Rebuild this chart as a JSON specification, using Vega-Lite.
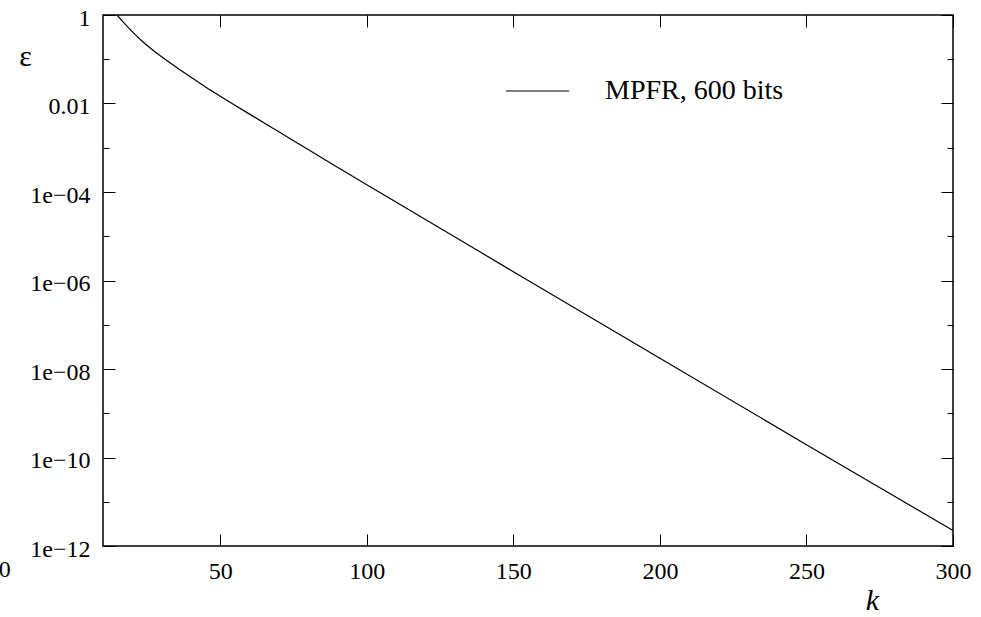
{
  "$schema": "https://vega.github.io/schema/vega-lite/v6.json",
  "autosize": {"type": "none"},
  "width": 850,
  "height": 531,
  "padding": {"left": 103, "top": 15, "right": 28, "bottom": 71},
  "background": "white",
  "config": {
    "view": {"stroke": "black", "strokeWidth": 1.5},
    "font": "Liberation Serif, Times New Roman, Times, serif",
    "axis": {
      "grid": false,
      "domain": false,
      "labelFont": "Liberation Serif, Times New Roman, Times, serif",
      "labelFontSize": 24,
      "labelColor": "black",
      "tickColor": "black",
      "tickWidth": 1,
      "titleFont": "Liberation Serif, Times New Roman, Times, serif",
      "titleColor": "black",
      "titleFontWeight": "normal"
    }
  },
  "datasets": {
    "curve": [
      {"k": 14.8, "eps": 1.0, "series": "MPFR, 600 bits"},
      {"k": 17, "eps": 0.684, "series": "MPFR, 600 bits"},
      {"k": 19, "eps": 0.49, "series": "MPFR, 600 bits"},
      {"k": 21, "eps": 0.359, "series": "MPFR, 600 bits"},
      {"k": 23, "eps": 0.269, "series": "MPFR, 600 bits"},
      {"k": 25, "eps": 0.2065, "series": "MPFR, 600 bits"},
      {"k": 27.5, "eps": 0.151, "series": "MPFR, 600 bits"},
      {"k": 30, "eps": 0.1135, "series": "MPFR, 600 bits"},
      {"k": 35, "eps": 0.0661, "series": "MPFR, 600 bits"},
      {"k": 40, "eps": 0.0394, "series": "MPFR, 600 bits"},
      {"k": 45, "eps": 0.0237, "series": "MPFR, 600 bits"},
      {"k": 50, "eps": 0.01462, "series": "MPFR, 600 bits"},
      {"k": 55, "eps": 0.00912, "series": "MPFR, 600 bits"},
      {"k": 60, "eps": 0.00575, "series": "MPFR, 600 bits"},
      {"k": 70, "eps": 0.00229, "series": "MPFR, 600 bits"},
      {"k": 80, "eps": 0.000912, "series": "MPFR, 600 bits"},
      {"k": 90, "eps": 0.000363, "series": "MPFR, 600 bits"},
      {"k": 100, "eps": 0.000146, "series": "MPFR, 600 bits"},
      {"k": 120, "eps": 2.4e-5, "series": "MPFR, 600 bits"},
      {"k": 150, "eps": 1.58e-6, "series": "MPFR, 600 bits"},
      {"k": 200, "eps": 1.74e-8, "series": "MPFR, 600 bits"},
      {"k": 250, "eps": 1.95e-10, "series": "MPFR, 600 bits"},
      {"k": 300, "eps": 2.24e-12, "series": "MPFR, 600 bits"}
    ]
  },
  "resolve": {"axis": {"x": "independent", "y": "independent"}},
  "layer": [
    {
      "data": {"name": "curve"},
      "mark": {"type": "line", "strokeWidth": 1.2, "clip": true, "interpolate": "monotone"},
      "encoding": {
        "x": {
          "field": "k", "type": "quantitative",
          "scale": {"domain": [10, 300], "nice": false, "zero": false},
          "axis": {
            "orient": "bottom",
            "values": [50, 100, 150, 200, 250, 300],
            "tickSize": -12,
            "labelPadding": 25,
            "labelBaseline": "top",
            "labelFlush": false,
            "title": "k",
            "titleFontSize": 30,
            "titleFontStyle": "italic",
            "titleX": 769,
            "titleY": 63,
            "titleAlign": "center",
            "titleBaseline": "alphabetic"
          }
        },
        "y": {
          "field": "eps", "type": "quantitative",
          "scale": {"type": "log", "domain": [1e-12, 1], "nice": false},
          "axis": {
            "orient": "left",
            "values": [1, 0.01, 0.0001, 1e-6, 1e-8, 1e-10, 1e-12],
            "tickSize": -12,
            "labelPadding": 25,
            "labelOffset": 3,
            "labelFlush": false,
            "labelExpr": "datum.value >= 0.5 ? '1' : datum.value > 0.001 ? '0.01' : '1e−' + pad(toString(round(-log(datum.value)/LN10)), 2, '0', 'left')",
            "title": "ε",
            "titleAngle": 0,
            "titleFontSize": 30,
            "titleX": -78,
            "titleY": 50,
            "titleAlign": "center",
            "titleBaseline": "alphabetic"
          }
        },
        "color": {
          "field": "series", "type": "nominal",
          "scale": {"range": ["black"]},
          "legend": {
            "orient": "none",
            "legendX": 402,
            "legendY": 43.5,
            "title": null,
            "symbolType": "stroke",
            "symbolSize": 3969,
            "symbolStrokeWidth": 1.2,
            "labelFont": "Liberation Serif, Times New Roman, Times, serif",
            "labelFontSize": 28,
            "labelColor": "black",
            "labelOffset": 35,
            "labelLimit": 400,
            "padding": 0
          }
        }
      }
    },
    {
      "data": {"name": "curve"},
      "mark": {"type": "line", "opacity": 0, "clip": true},
      "encoding": {
        "x": {
          "field": "k", "type": "quantitative",
          "axis": {"orient": "top", "values": [50, 100, 150, 200, 250, 300], "tickSize": -12, "labels": false, "title": null}
        },
        "y": {
          "field": "eps", "type": "quantitative",
          "axis": {"orient": "left", "values": [0.1, 0.001, 1e-5, 1e-7, 1e-9, 1e-11], "tickSize": -6, "labels": false, "title": null}
        }
      }
    },
    {
      "data": {"name": "curve"},
      "mark": {"type": "line", "opacity": 0, "clip": true},
      "encoding": {
        "x": {"field": "k", "type": "quantitative", "axis": null},
        "y": {
          "field": "eps", "type": "quantitative",
          "axis": {"orient": "right", "values": [1, 0.01, 0.0001, 1e-6, 1e-8, 1e-10, 1e-12], "tickSize": -12, "labels": false, "title": null}
        }
      }
    },
    {
      "data": {"name": "curve"},
      "mark": {"type": "line", "opacity": 0, "clip": true},
      "encoding": {
        "x": {"field": "k", "type": "quantitative", "axis": null},
        "y": {
          "field": "eps", "type": "quantitative",
          "axis": {"orient": "right", "values": [0.1, 0.001, 1e-5, 1e-7, 1e-9, 1e-11], "tickSize": -6, "labels": false, "title": null}
        }
      }
    },
    {
      "data": {"values": [{"k": -23.5, "eps": 2.9e-13, "t": "0"}]},
      "mark": {"type": "text", "clip": false, "fontSize": 24, "font": "Liberation Serif, Times New Roman, Times, serif", "color": "black", "align": "center", "baseline": "middle"},
      "encoding": {
        "x": {"field": "k", "type": "quantitative", "axis": null},
        "y": {"field": "eps", "type": "quantitative", "axis": null},
        "text": {"field": "t"}
      }
    }
  ]
}
